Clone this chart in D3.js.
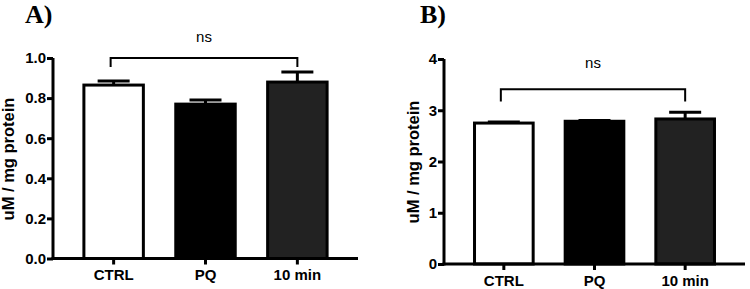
<!DOCTYPE html>
<html>
<head>
<meta charset="utf-8">
<script src="https://cdn.jsdelivr.net/npm/d3@7"></script>
<style>
  body { margin: 0; background: #fff; }
  svg text { font-family: "Liberation Sans", Arial, sans-serif; }
  .panelLabel { font-family: "Liberation Serif", "Times New Roman", serif !important; font-weight: bold; }
</style>
</head>
<body>
<div id="chart"></div>
<script>
// categories shared by both panels
var categories = ["CTRL", "PQ", "10 min"];
var barFills = ["#ffffff", "#000000", "#222222"];

// panel A
var meansA = [0.865, 0.77, 0.88];
var errA = [0.02, 0.02, 0.05];
var ticksA = [0.0, 0.2, 0.4, 0.6, 0.8, 1.0];
var bracketA = [1.0, 0.955, 1.08]; // top, leg end, label

// panel B
var meansB = [2.75, 2.785, 2.83];
var errB = [0.02, 0.015, 0.13];
var ticksB = [0, 1, 2, 3, 4];
var bracketB = [3.41, 3.17, 3.82];

var svg = d3.select("#chart").append("svg")
    .attr("width", 750)
    .attr("height", 289);

function drawPanel(opt){
    var g = svg.append("g");

    var y = d3.scaleLinear().domain(opt.domain).range([opt.bottom, opt.top]);
    var x = d3.scaleBand().domain(categories)
        .range([opt.left, opt.right])
        .paddingInner(0.32).paddingOuter(0.32);

    //bars
    g.selectAll("rect.bar").data(opt.means).enter().append("rect")
        .attr("class", "bar")
        .attr("x", function(d, i){ return x(categories[i]) + 1.5; })
        .attr("width", x.bandwidth() - 3)
        .attr("y", function(d){ return y(d); })
        .attr("height", function(d){ return y(0) - y(d); })
        .attr("fill", function(d, i){ return barFills[i]; })
        .attr("stroke", "#000")
        .attr("stroke-width", 3);

    //error bars (upper only)
    var cx = function(i){ return x(categories[i]) + x.bandwidth() / 2; };
    g.selectAll("line.err").data(opt.means).enter().append("line")
        .attr("class", "err")
        .attr("x1", function(d, i){ return cx(i); })
        .attr("x2", function(d, i){ return cx(i); })
        .attr("y1", function(d){ return y(d); })
        .attr("y2", function(d, i){ return y(d + opt.err[i]); })
        .attr("stroke", "#000").attr("stroke-width", 3);
    g.selectAll("line.cap").data(opt.means).enter().append("line")
        .attr("class", "cap")
        .attr("x1", function(d, i){ return cx(i) - 16; })
        .attr("x2", function(d, i){ return cx(i) + 16; })
        .attr("y1", function(d, i){ return y(d + opt.err[i]); })
        .attr("y2", function(d, i){ return y(d + opt.err[i]); })
        .attr("stroke", "#000").attr("stroke-width", 3);

    //axes
    var yAxis = d3.axisLeft(y).tickValues(opt.ticks).tickFormat(opt.fmt)
        .tickSize(6).tickPadding(1);
    var ya = g.append("g").attr("transform", "translate(" + opt.left + ",0)").call(yAxis);
    ya.select(".domain").attr("stroke-width", 3).attr("d", "M0," + (opt.bottom + 1.5) + "V" + opt.top);
    ya.selectAll(".tick line").attr("stroke-width", 3);
    ya.selectAll("text").style("font-size", "15px").style("font-weight", "bold").attr("fill", "#000");

    var xAxis = d3.axisBottom(x).tickSize(6).tickPadding(5);
    var xa = g.append("g").attr("transform", "translate(0," + opt.bottom + ")").call(xAxis);
    xa.select(".domain").attr("stroke-width", 3).attr("d", "M" + (opt.left - 1.5) + ",0H" + opt.right);
    xa.selectAll(".tick line").attr("stroke-width", 3);
    xa.selectAll("text").style("font-size", "15px").style("font-weight", "bold").attr("fill", "#000");

    //y label
    g.append("text")
        .attr("transform", "translate(" + opt.labelX + "," + opt.labelY + ") rotate(-90)")
        .style("text-anchor", "middle")
        .style("font-size", "16.5px")
        .style("font-weight", "bold")
        .text("uM / mg protein");

    //significance bracket between first and last
    var x0 = cx(0) - 3, x1 = cx(2);
    g.append("path")
        .attr("d", "M" + x0 + "," + y(opt.bracket[1]) + "V" + y(opt.bracket[0]) + "H" + x1 + "V" + y(opt.bracket[1]))
        .attr("fill", "none").attr("stroke", "#000").attr("stroke-width", 2);
    g.append("text")
        .attr("x", (x0 + x1) / 2)
        .attr("y", y(opt.bracket[2]))
        .style("text-anchor", "middle")
        .style("font-size", "15px")
        .text("ns");

    //panel label
    g.append("text")
        .attr("class", "panelLabel")
        .attr("x", opt.tagX)
        .attr("y", 23)
        .style("font-size", "26px")
        .text(opt.tag);
}

drawPanel({
    tag: "A)", tagX: 25,
    means: meansA, err: errA, ticks: ticksA, bracket: bracketA,
    domain: [0, 1], fmt: d3.format(".1f"),
    left: 53, right: 358, top: 58, bottom: 258.5,
    labelX: 14, labelY: 159
});

drawPanel({
    tag: "B)", tagX: 420,
    means: meansB, err: errB, ticks: ticksB, bracket: bracketB,
    domain: [0, 4], fmt: d3.format("d"),
    left: 444, right: 745, top: 59, bottom: 264,
    labelX: 419, labelY: 162
});
</script>
</body>
</html>
